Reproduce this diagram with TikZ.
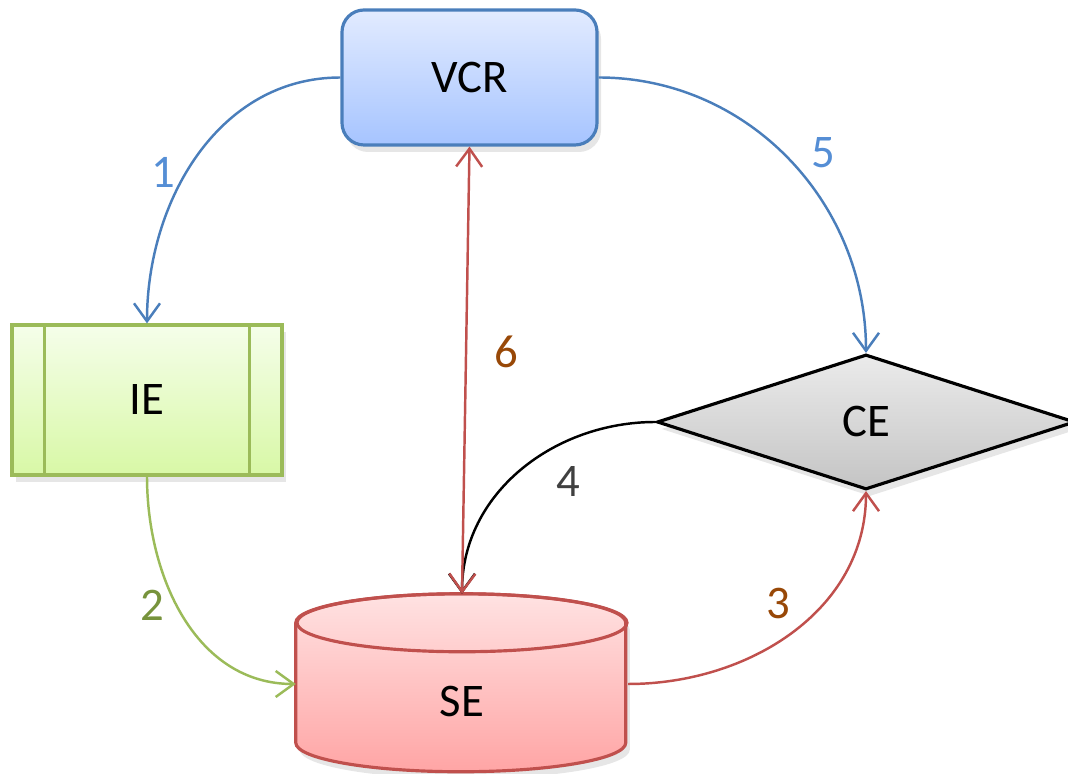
\documentclass[tikz,border=0pt]{standalone}
\usepackage{fontspec}
\setmainfont{Carlito}
\usetikzlibrary{shapes.geometric, arrows.meta, shadows}

\definecolor{bluel}{HTML}{4A7EBB}
\definecolor{bluet}{HTML}{558ED5}
\definecolor{greenl}{HTML}{9BBB59}
\definecolor{greent}{HTML}{77933C}
\definecolor{redl}{HTML}{C0504D}
\definecolor{brownt}{HTML}{984807}
\definecolor{grayt}{HTML}{404040}

\begin{document}
\begin{tikzpicture}[>={Straight Barb[length=1.8mm,width=2.6mm]}, line width=0.7pt,
  font=\fontsize{13.3}{15}\selectfont,
  shape box/.style={draw, line width=0.9pt,
    drop shadow={opacity=.2, shadow xshift=.4mm, shadow yshift=-.7mm}},
  vcrbox/.style={shape box, rounded corners=2.2mm, draw=bluel,
    top color={rgb,255:red,226;green,235;blue,255}, bottom color={rgb,255:red,166;green,196;blue,255},
    minimum width=2.55cm, minimum height=1.35cm},
  iebox/.style={shape box, draw=greenl,
    top color={rgb,255:red,245;green,254;blue,234}, bottom color={rgb,255:red,216;green,248;blue,166},
    minimum width=2.7cm, minimum height=1.5cm},
  cebox/.style={shape box, diamond, draw=black, inner sep=0pt,
    top color={rgb,255:red,235;green,235;blue,235}, bottom color={rgb,255:red,196;green,196;blue,196},
    minimum width=4.18cm, minimum height=1.35cm}]
\useasboundingbox (0,0) rectangle (10.68,7.74);

\node[vcrbox] (vcr) at (4.695,6.965) {VCR};
\node[iebox] (ie) at (1.47,3.74) {IE};
\draw[greenl, line width=0.9pt] ([xshift=3.4mm]ie.north west) -- ([xshift=3.4mm]ie.south west)
  ([xshift=-3.4mm]ie.north east) -- ([xshift=-3.4mm]ie.south east);
\node[cebox] (ce) at (8.66,3.52) {CE};

% SE drawn as a cylinder round an empty node
\node[minimum width=3.3cm, minimum height=1.78cm] (se) at (4.62,0.90) {};
\path[shape box, draw=redl,
  top color={rgb,255:red,255;green,226;blue,226}, bottom color={rgb,255:red,255;green,165;blue,165}]
  (se.north west) ++(0,-.29) -- ++(0,-1.2) arc[start angle=180, end angle=360, x radius=1.65, y radius=.29]
  -- ++(0,1.2) arc[start angle=0, end angle=180, x radius=1.65, y radius=.29] -- cycle;
\draw[redl, line width=0.9pt] ([yshift=-2.9mm]se.north) ellipse[x radius=1.65, y radius=.29];
\node (setext) at ([yshift=-1.7mm]se.center) {SE};

\draw[->, bluel] (vcr.west) to[out=180, in=90] node[pos=.55, left, yshift=-.3mm, text=bluet] (n1) {1} (ie.north);
\draw[->, greenl] (ie.south) to[out=-90, in=180] node[pos=.45, left, text=greent] (n2) {2} (se.west);
\draw[->, redl] (se.east) to[out=0, in=-90] node[pos=.42, above, xshift=.9mm, yshift=1.5mm, text=brownt] (n3) {3} (ce.south);
\draw[->, black] (ce.west) to[out=180, in=90] node[pos=.4, below right, text=grayt] (n4) {4} (se.north);
\draw[->, bluel] (vcr.east) to[out=0, in=90] node[pos=.5, right, xshift=1mm, yshift=.6mm, text=bluet] (n5) {5} (ce.north);
\draw[<->, redl] (se.north) -- node[pos=.54, right, xshift=1.5mm, text=brownt] (n6) {6} (vcr.south);
\end{tikzpicture}
\end{document}
